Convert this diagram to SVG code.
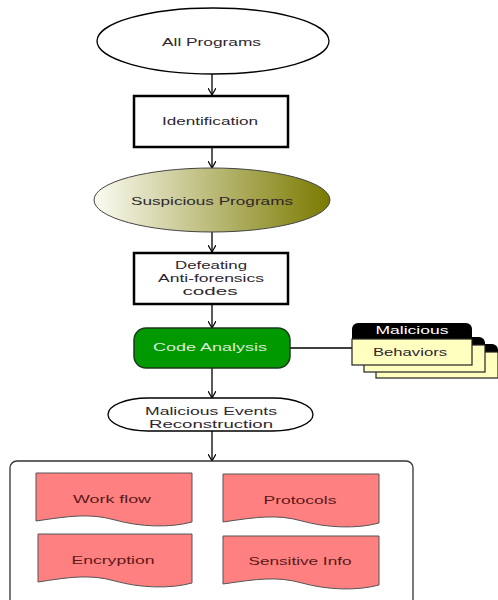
<svg xmlns="http://www.w3.org/2000/svg" width="498" height="600" viewBox="0 0 498 600">
<style>
text{font-family:"Liberation Sans",Arial,sans-serif;font-size:11px;text-anchor:middle;fill:#2e262e}
.ln{stroke:#000;stroke-width:1.3;fill:none}
.box{fill:#fff;stroke:#000;stroke-width:2.5}
.doc{fill:#ff8080;stroke:#555;stroke-width:1}
.doc-t{fill:#5a1818}
.card{fill:#ffffc0;stroke:#222;stroke-width:1.2}
</style>
<defs>
<linearGradient id="g1" x1="0" y1="0" x2="1" y2="0">
<stop offset="0" stop-color="#fbfbf2"/>
<stop offset="1" stop-color="#7a7a00"/>
</linearGradient>
<marker id="ah" markerWidth="8" markerHeight="8" refX="7" refY="4" orient="auto" markerUnits="userSpaceOnUse">
<path d="M0,0 L7,4 L0,8" fill="none" stroke="#000" stroke-width="1.2"/>
</marker>
</defs>
<g id="connectors">
<line class="ln" x1="212" y1="74" x2="212" y2="95" marker-end="url(#ah)"/>
<line class="ln" x1="212" y1="147" x2="212" y2="168" marker-end="url(#ah)"/>
<line class="ln" x1="212" y1="232" x2="212" y2="252" marker-end="url(#ah)"/>
<line class="ln" x1="212" y1="304" x2="212" y2="328" marker-end="url(#ah)"/>
<line class="ln" x1="212" y1="368" x2="212" y2="398" marker-end="url(#ah)"/>
<line class="ln" x1="212" y1="431" x2="212" y2="461" marker-end="url(#ah)"/>
<line class="ln" x1="290" y1="348" x2="352" y2="348"/>
</g>
<g id="all-programs">
<ellipse cx="213" cy="41" rx="116" ry="33" fill="#fff" stroke="#000" stroke-width="1.3"/>
<text x="211.5" y="46" textLength="99" lengthAdjust="spacingAndGlyphs">All Programs</text>
</g>
<g id="identification">
<rect class="box" x="134" y="96" width="154" height="51"/>
<text x="210" y="125" textLength="96" lengthAdjust="spacingAndGlyphs">Identification</text>
</g>
<g id="suspicious-programs">
<ellipse cx="212" cy="200" rx="118" ry="32" fill="url(#g1)" stroke="#444" stroke-width="1"/>
<text x="212" y="205" textLength="162" lengthAdjust="spacingAndGlyphs">Suspicious Programs</text>
</g>
<g id="defeating">
<rect class="box" x="134" y="253" width="154" height="51"/>
<text x="211" y="269" textLength="72" lengthAdjust="spacingAndGlyphs">Defeating</text>
<text x="211" y="282" textLength="106" lengthAdjust="spacingAndGlyphs">Anti-forensics</text>
<text x="210" y="295" textLength="55" lengthAdjust="spacingAndGlyphs">codes</text>
</g>
<g id="code-analysis">
<rect x="134" y="328" width="156" height="40" rx="12" fill="#009900" stroke="#1a3a1a" stroke-width="1.5"/>
<text x="210" y="351" textLength="114" lengthAdjust="spacingAndGlyphs" style="fill:#d8ecd8">Code Analysis</text>
</g>
<g id="malicious-behaviors">
<path d="M376,350 a6,6 0 0 1 6,-6 h110 a6,6 0 0 1 6,6 v28 h-122 z" fill="#000"/>
<rect class="card" x="376" y="352" width="122" height="26"/>
<path d="M364,343 a6,6 0 0 1 6,-6 h109 a6,6 0 0 1 6,6 v29 h-121 z" fill="#000"/>
<rect class="card" x="364" y="345" width="121" height="27"/>
<path d="M352,329 a6,6 0 0 1 6,-6 h108 a6,6 0 0 1 6,6 v36 h-120 z" fill="#000"/>
<rect class="card" x="352" y="339" width="120" height="26"/>
<text x="412" y="334" textLength="73" lengthAdjust="spacingAndGlyphs" style="fill:#fff">Malicious</text>
<text x="410" y="356" textLength="74" lengthAdjust="spacingAndGlyphs">Behaviors</text>
</g>
<g id="malicious-events">
<rect x="108" y="398" width="205" height="33" rx="40" ry="16.5" fill="#fff" stroke="#000" stroke-width="1.3"/>
<text x="211" y="415" textLength="132" lengthAdjust="spacingAndGlyphs">Malicious Events</text>
<text x="211" y="428" textLength="124" lengthAdjust="spacingAndGlyphs">Reconstruction</text>
</g>
<g id="results">
<rect x="10" y="461" width="403" height="150" rx="7" fill="#fff" stroke="#333" stroke-width="1.3"/>
</g>
<g id="work-flow">
<path class="doc" d="M36,473 H192 V522 C170,528 140,527 115,520 C90,513 70,516 36,521 Z"/>
<text class="doc-t" x="112" y="503" textLength="78" lengthAdjust="spacingAndGlyphs">Work flow</text>
</g>
<g id="protocols">
<path class="doc" d="M223,474 H379 V523 C357,529 327,528 302,521 C277,514 257,517 223,522 Z"/>
<text class="doc-t" x="300" y="504" textLength="73" lengthAdjust="spacingAndGlyphs">Protocols</text>
</g>
<g id="encryption">
<path class="doc" d="M38,534 H192 V583 C170,589 140,588 115,581 C90,574 70,577 38,582 Z"/>
<text class="doc-t" x="113" y="564" textLength="83" lengthAdjust="spacingAndGlyphs">Encryption</text>
</g>
<g id="sensitive-info">
<path class="doc" d="M223,536 H379 V585 C357,591 327,590 302,583 C277,576 257,579 223,584 Z"/>
<text class="doc-t" x="300" y="565" textLength="103" lengthAdjust="spacingAndGlyphs">Sensitive Info</text>
</g>
</svg>
